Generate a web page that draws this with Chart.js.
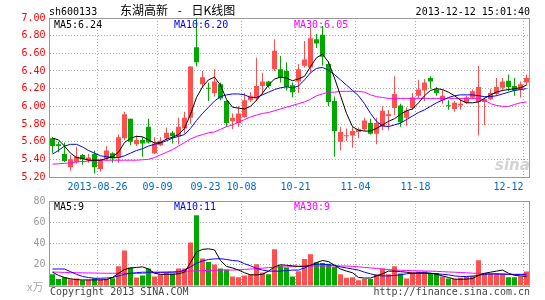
<!DOCTYPE html>
<html>
<head>
<meta charset="utf-8">
<title>sh600133 东湖高新 - 日K线图</title>
<script src="https://cdn.jsdelivr.net/npm/chart.js@4.4.0/dist/chart.umd.min.js"></script>
<style>
  html, body { margin: 0; padding: 0; background: #fff; }
  #box { position: relative; width: 545px; height: 300px; overflow: hidden;
         font-family: "DejaVu Sans Mono", monospace; font-size: 10px; }
  #box canvas { position: absolute; left: 0; }
  .t { position: absolute; white-space: nowrap; line-height: 12px; }
</style>
</head>
<body>
<div id="box">
  <canvas id="kline" width="545" height="195" style="top:0"></canvas>
  <canvas id="volume" width="545" height="105" style="top:195px"></canvas>

  <div class="t" style="left:49px;top:6px;color:#000">sh600133</div>
  <div class="t" style="left:120px;top:3px;line-height:14px;font-size:12px;font-family:'Noto Sans CJK SC',sans-serif;word-spacing:7px;color:#000">东湖高新 - 日K线图</div>
  <div class="t" style="right:15px;top:6px;color:#000">2013-12-12 15:01:40</div>

  <div class="t" style="left:54px;top:19px;color:#000">MA5:6.24</div>
  <div class="t" style="left:174px;top:19px;color:#0000ff">MA10:6.20</div>
  <div class="t" style="left:294px;top:19px;color:#ff00ff">MA30:6.05</div>

  <div class="t" style="left:54px;top:201px;color:#000">MA5:9</div>
  <div class="t" style="left:174px;top:201px;color:#0000ff">MA10:11</div>
  <div class="t" style="left:294px;top:201px;color:#ff00ff">MA30:9</div>

  <div class="t" style="left:27px;top:280px;font-size:11px;font-family:'Noto Sans CJK SC',sans-serif;color:#aaa">x万</div>
  <div class="t" style="left:50px;top:286px;color:#444">Copyright 2013 SINA.COM</div>
  <div class="t" style="right:15px;top:286px;color:#444">http://finance.sina.com.cn</div>

  <div class="t" style="left:495px;top:156px;line-height:16px;font:italic bold 15px 'DejaVu Sans',sans-serif;color:#d4d4d4">sina</div>
</div>

<script>
// trading days shown (2013)
const dates = [
  '2013-08-14','2013-08-15','2013-08-16','2013-08-19','2013-08-20','2013-08-21','2013-08-22','2013-08-23',
  '2013-08-26','2013-08-27','2013-08-28','2013-08-29','2013-08-30',
  '2013-09-02','2013-09-03','2013-09-04','2013-09-05','2013-09-06',
  '2013-09-09','2013-09-10','2013-09-11','2013-09-12','2013-09-13',
  '2013-09-16','2013-09-17','2013-09-18',
  '2013-09-23','2013-09-24','2013-09-25','2013-09-26','2013-09-27','2013-09-30',
  '2013-10-08','2013-10-09','2013-10-10','2013-10-11',
  '2013-10-14','2013-10-15','2013-10-16','2013-10-17','2013-10-18',
  '2013-10-21','2013-10-22','2013-10-23','2013-10-24','2013-10-25',
  '2013-10-28','2013-10-29','2013-10-30','2013-10-31','2013-11-01',
  '2013-11-04','2013-11-05','2013-11-06','2013-11-07','2013-11-08',
  '2013-11-11','2013-11-12','2013-11-13','2013-11-14','2013-11-15',
  '2013-11-18','2013-11-19','2013-11-20','2013-11-21','2013-11-22',
  '2013-11-25','2013-11-26','2013-11-27','2013-11-28','2013-11-29',
  '2013-12-02','2013-12-03','2013-12-04','2013-12-05','2013-12-06',
  '2013-12-09','2013-12-10','2013-12-11','2013-12-12'
];

// dates with a label under the price panel, and those with a vertical grid line
const dateTicks = ['2013-08-26','2013-09-09','2013-09-23','2013-10-08','2013-10-21','2013-11-04','2013-11-18','2013-12-12'];
const gridDates = ['2013-08-26','2013-09-09','2013-10-08','2013-10-21','2013-11-04','2013-11-18','2013-12-12'];

const priceTicks = [5.2, 5.4, 5.6, 5.8, 6.0, 6.2, 6.4, 6.6, 6.8, 7.0];
const volTicks = [0, 20, 40, 60, 80];

const openP = [
  5.64, 5.57, 5.46, 5.31, 5.37, 5.45, 5.39, 5.46, 5.29, 5.41,
  5.47, 5.42, 5.64, 5.86, 5.57, 5.62, 5.77, 5.47, 5.56, 5.64,
  5.70, 5.66, 5.75, 5.87, 6.67, 6.25, 6.21, 6.15, 6.25, 6.06,
  5.83, 5.81, 5.88, 6.07, 6.09, 6.23, 6.28, 6.42, 6.42, 6.40,
  6.24, 6.28, 6.46, 6.44, 6.76, 6.81, 6.48, 6.06, 5.60, 5.66,
  5.67, 5.71, 5.74, 5.81, 5.69, 5.77, 5.89, 5.98, 6.01, 5.87,
  5.98, 6.12, 6.18, 6.32, 6.19, 6.07, 6.01, 5.97, 6.01, 6.04,
  6.10, 6.05, 6.05, 6.08, 6.14, 6.21, 6.29, 6.23, 6.19, 6.27
];
const highP = [
  5.65, 5.60, 5.59, 5.45, 5.54, 5.46, 5.46, 5.50, 5.41, 5.55,
  5.48, 5.68, 5.94, 5.86, 5.67, 5.65, 5.86, 5.65, 5.65, 5.76,
  5.72, 5.87, 5.94, 6.45, 7.00, 6.40, 6.27, 6.42, 6.27, 6.07,
  5.92, 6.00, 6.15, 6.16, 6.55, 6.38, 6.29, 6.76, 6.57, 6.50,
  6.27, 6.48, 6.74, 6.89, 6.82, 6.91, 6.51, 6.11, 5.77, 5.75,
  5.77, 5.76, 5.87, 5.86, 5.87, 6.00, 5.96, 6.34, 6.03, 5.99,
  6.15, 6.30, 6.31, 6.34, 6.22, 6.19, 6.07, 6.06, 6.08, 6.12,
  6.19, 6.46, 6.10, 6.20, 6.32, 6.32, 6.36, 6.32, 6.28, 6.36
];
const lowP = [
  5.47, 5.48, 5.37, 5.27, 5.35, 5.34, 5.36, 5.24, 5.26, 5.38,
  5.36, 5.36, 5.62, 5.56, 5.55, 5.43, 5.58, 5.46, 5.55, 5.61,
  5.58, 5.57, 5.69, 5.80, 6.45, 6.21, 6.06, 6.11, 6.07, 5.77,
  5.74, 5.77, 5.87, 6.05, 6.06, 6.13, 6.21, 6.40, 6.27, 6.18,
  6.10, 6.15, 6.44, 6.38, 6.66, 6.46, 6.00, 5.43, 5.50, 5.61,
  5.53, 5.64, 5.72, 5.68, 5.57, 5.73, 5.73, 5.90, 5.77, 5.78,
  5.96, 6.09, 6.06, 6.20, 6.12, 6.03, 5.96, 5.94, 5.96, 6.03,
  6.08, 5.67, 5.79, 6.07, 6.12, 6.17, 6.17, 6.12, 6.10, 6.24
];
const closeP = [
  5.55, 5.55, 5.38, 5.40, 5.43, 5.40, 5.42, 5.31, 5.39, 5.50,
  5.41, 5.65, 5.91, 5.60, 5.62, 5.58, 5.59, 5.58, 5.61, 5.70,
  5.66, 5.77, 5.87, 6.45, 6.50, 6.33, 6.20, 6.28, 6.09, 5.81,
  5.87, 5.92, 6.07, 6.12, 6.23, 6.28, 6.23, 6.63, 6.32, 6.22,
  6.16, 6.42, 6.53, 6.77, 6.71, 6.56, 6.05, 5.72, 5.71, 5.67,
  5.72, 5.74, 5.84, 5.69, 5.81, 5.95, 5.91, 6.14, 5.82, 5.95,
  6.10, 6.19, 6.27, 6.28, 6.15, 6.12, 6.00, 6.04, 6.03, 6.10,
  6.17, 6.22, 6.08, 6.15, 6.22, 6.28, 6.22, 6.18, 6.25, 6.32
];

// price moving averages as drawn
const ma5 = [
  5.64, 5.62, 5.55, 5.47, 5.42, 5.41, 5.39, 5.39, 5.39, 5.41,
  5.43, 5.48, 5.59, 5.64, 5.66, 5.655, 5.62, 5.585, 5.59, 5.63,
  5.65, 5.68, 5.75, 5.91, 6.10, 6.22, 6.30, 6.33, 6.24, 6.08,
  5.99, 5.98, 5.97, 6.00, 6.07, 6.15, 6.24, 6.31, 6.33, 6.32,
  6.29, 6.31, 6.34, 6.45, 6.55, 6.59, 6.50, 6.32, 6.12, 5.92,
  5.77, 5.73, 5.72, 5.72, 5.75, 5.79, 5.83, 5.86, 5.91, 5.95,
  5.97, 6.04, 6.12, 6.18, 6.20, 6.19, 6.16, 6.12, 6.07, 6.04,
  6.04, 6.05, 6.09, 6.13, 6.16, 6.18, 6.19, 6.20, 6.21, 6.24
];
const ma10 = [
  5.46, 5.50, 5.55, 5.57, 5.57, 5.54, 5.50, 5.47, 5.44, 5.43,
  5.42, 5.42, 5.44, 5.47, 5.50, 5.52, 5.55, 5.57, 5.585, 5.61,
  5.64, 5.66, 5.68, 5.75, 5.84, 5.92, 5.99, 6.06, 6.11, 6.13,
  6.14, 6.14, 6.13, 6.10, 6.10, 6.13, 6.16, 6.19, 6.21, 6.22,
  6.21, 6.23, 6.30, 6.38, 6.43, 6.44, 6.41, 6.36, 6.30, 6.24,
  6.18, 6.12, 6.03, 5.92, 5.83, 5.78, 5.77, 5.79, 5.81, 5.85,
  5.89, 5.93, 5.96, 6.00, 6.04, 6.07, 6.10, 6.12, 6.13, 6.13,
  6.13, 6.12, 6.11, 6.11, 6.12, 6.14, 6.16, 6.18, 6.19, 6.20
];
const ma30 = [
  5.345, 5.35, 5.355, 5.36, 5.37, 5.375, 5.38, 5.385, 5.39, 5.39,
  5.39, 5.39, 5.39, 5.39, 5.39, 5.395, 5.40, 5.42, 5.45, 5.48,
  5.51, 5.55, 5.59, 5.63, 5.66, 5.68, 5.70, 5.71, 5.74, 5.77,
  5.79, 5.82, 5.85, 5.88, 5.90, 5.92, 5.93, 5.95, 5.97, 5.99,
  6.01, 6.03, 6.05, 6.08, 6.12, 6.14, 6.16, 6.16, 6.17, 6.17,
  6.17, 6.17, 6.16, 6.13, 6.11, 6.10, 6.09, 6.09, 6.09, 6.09,
  6.09, 6.09, 6.09, 6.09, 6.09, 6.09, 6.09, 6.09, 6.09, 6.09,
  6.09, 6.09, 6.07, 6.03, 6.01, 6.00, 6.00, 6.02, 6.04, 6.05
];

// volume, in units of 10 000 shares
const vol = [
  11, 6.5, 8.3, 6.3, 7, 5.3, 6, 7, 6.3, 6.3,
  7.2, 18.5, 33.5, 17.5, 8, 10, 16.5, 9, 11, 12.8,
  11.8, 16.5, 16.5, 41, 66.5, 26, 22.5, 20.3, 16.5, 15.5,
  9, 8.3, 10, 11, 20.5, 12.8, 11, 34.7, 19.3, 17.3,
  9, 14, 25.5, 30, 22.3, 21.6, 21, 18, 11, 7.8,
  8.3, 5.5, 6.5, 6.5, 11, 16.5, 11, 18.5, 11.8, 7,
  13, 13.6, 13.6, 12.3, 12.3, 9, 7, 6.5, 7.8, 9,
  9.7, 24.3, 11.8, 11.8, 12.3, 11.8, 8.2, 8.2, 9, 13.6
];
const volMa5 = [
  13, 10, 8, 6.8, 6, 5.7, 5.7, 5.7, 5.7, 6,
  8, 12, 15.5, 17, 17.5, 18, 16, 12, 11, 11,
  11, 11.5, 13, 22, 32, 34.5, 35, 34, 24, 18.5,
  17, 15, 12.5, 10.5, 10.5, 11, 14, 18, 20, 19.5,
  19, 18.5, 18.5, 19.5, 22, 24, 23, 19.5, 16, 14,
  12.5, 8, 7.5, 7.5, 9.5, 11.5, 14, 14, 13.5, 13,
  12, 12, 12, 12, 11, 9.5, 8, 6.5, 6.3, 6.5,
  7, 10, 12, 13, 14, 15, 12, 10, 9.5, 9
];
const volMa10 = [
  16, 16, 16, 13.5, 11, 9, 8, 7.3, 7.3, 7.5,
  8, 9.5, 11, 12, 12.5, 13, 13, 13, 13, 13,
  13, 13.3, 15, 18, 21.5, 23.5, 25, 25.5, 25.7, 25,
  24, 23.5, 21, 19, 16.5, 15, 14, 14, 14, 14.5,
  15, 15, 17, 19.5, 20.5, 20.5, 20, 19.5, 18, 17,
  16, 15, 13, 11.5, 10, 9.5, 9.4, 10, 10.5, 11.5,
  12, 12.5, 12.5, 12, 11.5, 11, 10.5, 9.5, 9, 9,
  9.3, 10, 11, 11.3, 11.3, 11.2, 11, 11, 11, 11
];
const volMa30 = [
  13.2, 13, 12.8, 12.6, 12.5, 12.4, 12.3, 12.2, 12.1, 12,
  12, 12, 11.9, 11.9, 11.9, 11.9, 12.2, 12.5, 12.8, 13,
  13.3, 13.6, 13.8, 14, 14.3, 14.5, 14.6, 14.8, 15, 15,
  15, 15.3, 15.6, 16, 16.3, 16.8, 17.3, 17.6, 17.8, 18,
  18.3, 18.5, 18.7, 18.8, 18.8, 18.8, 18.8, 18.8, 18.8, 18.8,
  18.5, 18, 17.5, 17, 16.5, 16, 15.5, 15, 14.8, 14.6,
  14.4, 14.3, 14.1, 14, 13.8, 13.5, 13.2, 13, 12.7, 12.4,
  12.1, 11.9, 11.7, 11.5, 11.3, 11.2, 11, 10.8, 10.6, 10.5
];

const RED = '#ff5050';
const GREEN = '#00a800';
const GRID = '#aaaaaa';

Chart.defaults.font.family = '"DejaVu Sans Mono", monospace';
Chart.defaults.font.size = 10;
Chart.defaults.animation = false;

// up days red, down days green
const colori = openP.map((o, i) => closeP[i] >= o ? RED : GREEN);

// gray frame round the plot area
const cornice = {
  id: 'cornice',
  beforeDatasetsDraw(chart) {
    const a = chart.chartArea;
    const ctx = chart.ctx;
    const top = Math.floor(a.top) + 0.5;
    const bottom = Math.floor(a.bottom) + 0.5;
    ctx.save();
    ctx.strokeStyle = '#999999';
    ctx.lineWidth = 1;
    ctx.strokeRect(a.left, top, a.right - a.left, bottom - top);
    ctx.restore();
  }
};

function lineaMedia(data, color) {
  return {
    type: 'line', data: data, borderColor: color, borderWidth: 1,
    pointRadius: 0, fill: false, tension: 0, order: 0
  };
}

function assiX(altezza, conEtichette) {
  return {
    type: 'category',
    offset: true,
    grid: {
      offset: true,
      drawTicks: false,
      color: (ctx) => ctx.tick && gridDates.includes(dates[ctx.index]) ? GRID : 'rgba(0,0,0,0)'
    },
    border: { display: false, dash: [1, 2] },
    ticks: {
      display: conEtichette,
      autoSkip: false,
      maxRotation: 0,
      minRotation: 0,
      labelOffset: -3,
      padding: 4,
      color: '#0066cc',
      callback: (v, i) => {
        const d = dates[i];
        if (!dateTicks.includes(d)) return '';
        if (d === dateTicks[0]) return d;
        // the last label sits left of its grid line, inside the frame
        if (i === dates.length - 1) return d.slice(5) + '     ';
        return d.slice(5);
      }
    },
    afterFit(scale) { scale.height = altezza; scale.paddingLeft = 0; scale.paddingRight = 0; }
  };
}

function assiY(min, max, valori, colore, formato) {
  return {
    min: min, max: max,
    grid: { color: GRID, drawTicks: false },
    border: { display: false, dash: [1, 2] },
    afterBuildTicks(scale) { scale.ticks = valori.map(v => ({ value: v })); },
    ticks: { color: colore, padding: 4, callback: formato },
    afterFit(scale) { scale.width = 49.5; scale.paddingTop = 0; scale.paddingBottom = 0; }
  };
}

// price panel: candles from floating bars
new Chart(document.getElementById('kline'), {
  type: 'bar',
  data: {
    labels: dates,
    datasets: [
      lineaMedia(ma5, '#000000'),
      lineaMedia(ma10, '#0000ff'),
      lineaMedia(ma30, '#ff00ff'),
      {
        data: openP.map((o, i) => [o, closeP[i]]),
        backgroundColor: colori, barThickness: 5, minBarLength: 1,
        grouped: false, inflateAmount: 0, order: 1
      },
      {
        data: lowP.map((l, i) => [l, highP[i]]),
        backgroundColor: colori, barThickness: 1,
        grouped: false, inflateAmount: 0, order: 2
      }
    ]
  },
  options: {
    responsive: false,
    devicePixelRatio: 1,
    events: [],
    layout: { padding: { top: 18, right: 15.5, bottom: 0, left: 0 } },
    plugins: { legend: { display: false }, tooltip: { enabled: false } },
    scales: {
      x: assiX(18, true),
      y: assiY(5.2, 7.0, priceTicks, '#ff0000', v => Number(v).toFixed(2))
    }
  },
  plugins: [cornice]
});

// volume panel
new Chart(document.getElementById('volume'), {
  type: 'bar',
  data: {
    labels: dates,
    datasets: [
      lineaMedia(volMa5, '#000000'),
      lineaMedia(volMa10, '#0000ff'),
      lineaMedia(volMa30, '#ff00ff'),
      {
        data: vol, backgroundColor: colori, barThickness: 5,
        grouped: false, inflateAmount: 0, order: 1
      }
    ]
  },
  options: {
    responsive: false,
    devicePixelRatio: 1,
    events: [],
    layout: { padding: { top: 6, right: 15.5, bottom: 0, left: 0 } },
    plugins: { legend: { display: false }, tooltip: { enabled: false } },
    scales: {
      x: assiX(14, false),
      y: assiY(0, 80, volTicks, '#999999', v => v === 0 ? '' : String(v))
    }
  },
  plugins: [cornice]
});
</script>
</body>
</html>
